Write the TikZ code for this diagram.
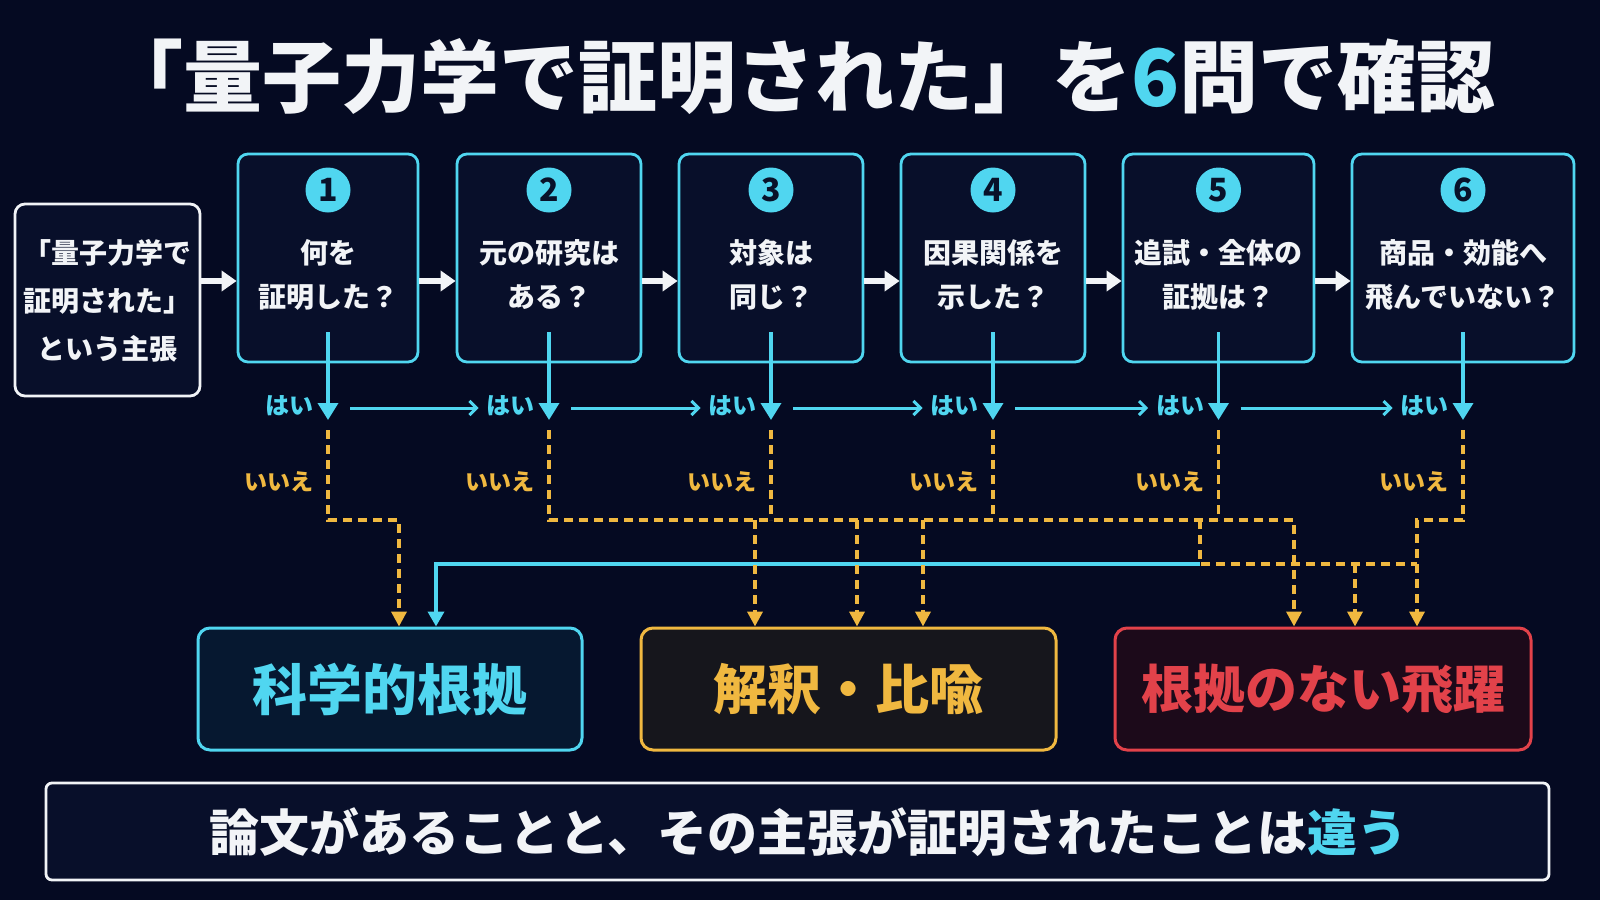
\documentclass[tikz,border=0pt]{standalone}
\usepackage{fontspec}
\setmainfont{Noto Sans CJK JP}
\usetikzlibrary{arrows.meta}
\definecolor{bg}{RGB}{5,10,34}
\definecolor{cy}{RGB}{80,214,240}
\definecolor{yl}{RGB}{240,184,64}
\definecolor{rd}{RGB}{226,66,74}
\definecolor{txt}{RGB}{242,244,247}
\definecolor{qfill}{RGB}{8,15,42}
\definecolor{scifill}{RGB}{6,24,48}
\definecolor{intfill}{RGB}{22,22,28}
\definecolor{leapfill}{RGB}{28,10,26}
\definecolor{digit}{RGB}{8,18,42}
\tikzset{
  qbox/.style={draw=cy, line width=2.8pt, rounded corners=10pt, fill=qfill, minimum height=208pt, inner sep=0pt},
  startbox/.style={draw=txt, line width=2.8pt, rounded corners=10pt, fill=qfill, inner sep=0pt},
  qtext/.style={text=txt, align=center, font=\bfseries\fontsize{28}{44}\selectfont, inner sep=0pt},
  numdot/.style={circle, fill=cy, minimum size=45pt, inner sep=0pt, text=digit, font=\bfseries\fontsize{32}{32}\selectfont},
  hai/.style={text=cy, font=\bfseries\fontsize{24}{24}\selectfont, inner sep=0pt, anchor=east},
  iie/.style={text=yl, font=\bfseries\fontsize{23}{23}\selectfont, inner sep=0pt, anchor=east},
  cyarrow/.style={draw=cy, line width=3.6pt, -{Triangle[width=20pt,length=17pt]}},
  harrow/.style={draw=cy, line width=3pt, -{Straight Barb[width=14pt,length=7pt,line width=3pt]}},
  warrow/.style={draw=txt, line width=6pt, -{Triangle[width=20pt,length=15pt]}},
  ydash/.style={draw=yl, line width=3.6pt, dash pattern=on 9pt off 6pt},
  ytip/.style={-{Triangle[width=15pt,length=15pt]}},
  catbox/.style={line width=3pt, rounded corners=12pt, minimum height=122pt, inner sep=0pt},
}
\begin{document}
\begin{tikzpicture}[x=1pt,y=-1pt]
\fill[bg] (0,0) rectangle (1600,900);
\useasboundingbox (0,0) rectangle (1600,900);

% title
\node[text=txt, font=\bfseries\fontsize{79}{82}\selectfont, inner sep=0pt] (title) at (800,77)
  {「量子力学で証明された」を\textcolor{cy}{6}問で確認};

% start box
\node[startbox, minimum width=185pt, minimum height=192pt] (start) at (107.5,300) {};
\node[qtext, font=\bfseries\fontsize{28}{48}\selectfont] (starttext) at (107.5,301) {「量子力学で\\証明された」\\という主張};

% question boxes
\foreach \i/\x/\w/\t in {1/328/180/{何を\\証明した？},2/549/184/{元の研究は\\ある？},3/771/184/{対象は\\同じ？},4/993/184/{因果関係を\\示した？},5/1218.5/191/{追試・全体の\\証拠は？},6/1463/222/{商品・効能へ\\飛んでいない？}}{
  \node[qbox, minimum width=\w pt] (q\i) at (\x,258) {};
  \node[numdot] (n\i) at (\x,190) {\i};
  \node[qtext] (t\i) at (\x,275) {\t};
  \coordinate (a\i) at (\x,332);
  \coordinate (b\i) at (\x,420);
  \coordinate (c\i) at (\x,430);
  \coordinate (e\i) at (\x,520);
  \coordinate (r\i) at (\x+22,408);
  \draw[cyarrow] (a\i) -- (b\i);
  \node[hai] (h\i) at (\x-14,406) {はい};
  \node[iie] (i\i) at (\x-14,482) {いいえ};
}

% white arrows
\coordinate (wy) at (0,281);
\draw[warrow] (start.east |- wy) -- (q1.west |- wy);
\foreach \i/\j in {1/2,2/3,3/4,4/5,5/6}{
  \draw[warrow] (q\i.east |- wy) -- (q\j.west |- wy);
  \draw[harrow] (r\i) -- ([xshift=-8pt]h\j.west |- r\i);
}

% category boxes
\node[catbox, draw=cy, fill=scifill, minimum width=384pt, text=cy, font=\bfseries\fontsize{55}{55}\selectfont] (sci) at (390,689) {科学的根拠};
\node[catbox, draw=yl, fill=intfill, minimum width=415pt, text=yl, font=\bfseries\fontsize{54}{54}\selectfont] (interp) at (848.5,689) {解釈・比喩};
\node[catbox, draw=rd, fill=leapfill, minimum width=416pt, text=rd, font=\bfseries\fontsize{52}{52}\selectfont] (leap) at (1323,689) {根拠のない飛躍};

% routing coordinates
\coordinate (k1) at (399,520);
\coordinate (k2) at (436,564);
\coordinate (k3) at (755,520);
\coordinate (k4) at (857,520);
\coordinate (k5) at (923,520);
\coordinate (k6) at (1294,520);
\coordinate (k7) at (1200,520);
\coordinate (k8) at (1200,564);
\coordinate (k9) at (1417,564);
\coordinate (k10) at (1355,564);
\coordinate (k11) at (1417,520);

% cyan line to scientific evidence
\draw[cyarrow, -{Triangle[width=16pt,length=15pt]}] (k8) -- (k2) -- (k2 |- sci.north);

% yellow dashed routes
\draw[ydash, ytip] (c1) -- (e1) -- (k1) -- (k1 |- sci.north);
\draw[ydash, ytip] (c2) -- (e2) -- (k6) -- (k6 |- leap.north);
\draw[ydash] (c3) -- (e3);
\draw[ydash] (c4) -- (e4);
\draw[ydash] (c5) -- (e5);
\draw[ydash, ytip] (k3) -- (k3 |- interp.north);
\draw[ydash, ytip] (k4) -- (k4 |- interp.north);
\draw[ydash, ytip] (k5) -- (k5 |- interp.north);
\draw[ydash] (k7) -- (k8) -- (k9);
\draw[ydash, ytip] (k10) -- (k10 |- leap.north);
\draw[ydash, ytip] (c6) -- (e6) -- (k11) -- (k11 |- leap.north);

% bottom banner
\node[draw=txt, line width=2.8pt, rounded corners=6pt, fill=qfill, minimum width=1503pt, minimum height=97pt, inner sep=0pt] (banner) at (797.5,831.5) {};
\node[text=txt, font=\bfseries\fontsize{50}{50}\selectfont, inner sep=0pt] (bannertext) at (808,832)
  {論文があることと、その主張が証明されたことは\textcolor{cy}{違う}};
\end{tikzpicture}
\end{document}
